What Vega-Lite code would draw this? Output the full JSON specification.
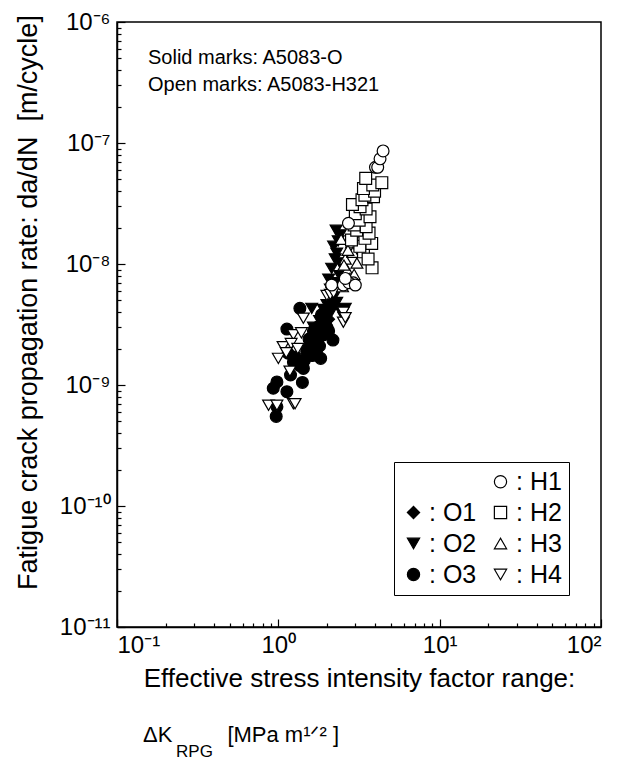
{
  "$schema": "https://vega.github.io/schema/vega-lite/v6.json",
  "width": 484,
  "height": 605,
  "autosize": "none",
  "padding": {"left": 117, "top": 22, "right": 24, "bottom": 137},
  "background": "white",
  "config": {
    "font": "Liberation Sans",
    "view": {"stroke": "black", "strokeWidth": 1.5},
    "axis": {
      "grid": false,
      "domainColor": "black",
      "domainWidth": 1.5,
      "tickColor": "black",
      "tickWidth": 1.2,
      "labelColor": "black",
      "titleColor": "black",
      "labelFont": "Liberation Sans",
      "titleFont": "Liberation Sans",
      "titleFontWeight": "normal"
    },
    "legend": {
      "orient": "none", "legendX": 277, "legendY": 440,
      "columns": 2,
      "strokeColor": "black", "fillColor": "white", "padding": 7,
      "labelFont": "Liberation Sans", "labelFontSize": 25, "labelColor": "black",
      "symbolSize": 150, "symbolStrokeWidth": 1.2,
      "rowPadding": 5, "columnPadding": 11, "labelOffset": 3
    }
  },
  "title": {
    "text": "ΔK\u00a0\u00a0\u00a0\u00a0\u00a0\u00a0\u00a0\u00a0 [MPa m¹ᐟ² ]",
    "subtitle": "\u200b\u00a0\u00a0\u00a0\u00a0\u00a0\u00a0\u00a0RPG",
    "orient": "bottom",
    "anchor": "start",
    "frame": "group",
    "dx": 26,
    "offset": 34,
    "font": "Liberation Sans",
    "fontSize": 22,
    "fontWeight": "normal",
    "color": "black",
    "subtitleFont": "Liberation Sans",
    "subtitleFontSize": 17,
    "subtitleColor": "black",
    "subtitlePadding": -3
  },
  "datasets": {
    "points": [
      {"series": "O1", "dK": 1.6, "dadN": 2.4e-9},
      {"series": "O1", "dK": 1.7, "dadN": 2.9e-9},
      {"series": "O1", "dK": 1.8, "dadN": 3.2e-9},
      {"series": "O1", "dK": 1.9, "dadN": 3.6e-9},
      {"series": "O1", "dK": 2.0, "dadN": 4.0e-9},
      {"series": "O1", "dK": 2.1, "dadN": 4.4e-9},
      {"series": "O1", "dK": 1.75, "dadN": 2.3e-9},
      {"series": "O1", "dK": 1.85, "dadN": 2.7e-9},
      {"series": "O1", "dK": 1.95, "dadN": 3.0e-9},
      {"series": "O1", "dK": 2.05, "dadN": 3.5e-9},
      {"series": "O1", "dK": 1.65, "dadN": 2.0e-9},
      {"series": "O1", "dK": 2.2, "dadN": 4.9e-9},
      {"series": "O2", "dK": 2.42, "dadN": 1.74e-8},
      {"series": "O2", "dK": 2.3, "dadN": 1.23e-8},
      {"series": "O2", "dK": 2.14, "dadN": 9.2e-9},
      {"series": "O2", "dK": 2.42, "dadN": 1.02e-8},
      {"series": "O2", "dK": 2.2, "dadN": 1.4e-8},
      {"series": "O2", "dK": 2.35, "dadN": 1.55e-8},
      {"series": "O2", "dK": 2.25, "dadN": 1.1e-8},
      {"series": "O2", "dK": 2.05, "dadN": 7.5e-9},
      {"series": "O2", "dK": 2.1, "dadN": 6.2e-9},
      {"series": "O2", "dK": 2.3, "dadN": 7.0e-9},
      {"series": "O2", "dK": 2.4, "dadN": 8.0e-9},
      {"series": "O2", "dK": 2.5, "dadN": 9.5e-9},
      {"series": "O2", "dK": 2.2, "dadN": 5.3e-9},
      {"series": "O2", "dK": 2.0, "dadN": 4.6e-9},
      {"series": "O2", "dK": 1.9, "dadN": 4.2e-9},
      {"series": "O2", "dK": 2.3, "dadN": 4.8e-9},
      {"series": "O2", "dK": 2.45, "dadN": 4.0e-9},
      {"series": "O2", "dK": 2.55, "dadN": 3.6e-9},
      {"series": "O2", "dK": 1.8, "dadN": 3.4e-9},
      {"series": "O2", "dK": 1.75, "dadN": 2.6e-9},
      {"series": "O2", "dK": 1.65, "dadN": 3.0e-9},
      {"series": "O2", "dK": 2.1, "dadN": 3.9e-9},
      {"series": "O2", "dK": 1.95, "dadN": 3.2e-9},
      {"series": "O2", "dK": 2.6, "dadN": 4.3e-9},
      {"series": "O2", "dK": 2.15, "dadN": 5.8e-9},
      {"series": "O2", "dK": 1.61, "dadN": 4.3e-9},
      {"series": "O2", "dK": 2.53, "dadN": 4.2e-9},
      {"series": "O2", "dK": 2.28, "dadN": 1.9e-8},
      {"series": "O3", "dK": 0.97, "dadN": 5.5e-10},
      {"series": "O3", "dK": 0.98, "dadN": 6.6e-10},
      {"series": "O3", "dK": 0.93, "dadN": 9.4e-10},
      {"series": "O3", "dK": 0.98, "dadN": 1.06e-9},
      {"series": "O3", "dK": 1.13, "dadN": 8.8e-10},
      {"series": "O3", "dK": 1.19, "dadN": 1.21e-9},
      {"series": "O3", "dK": 1.15, "dadN": 1.83e-9},
      {"series": "O3", "dK": 1.24, "dadN": 1.55e-9},
      {"series": "O3", "dK": 1.43, "dadN": 1.37e-9},
      {"series": "O3", "dK": 1.41, "dadN": 1.05e-9},
      {"series": "O3", "dK": 1.36, "dadN": 4.3e-9},
      {"series": "O3", "dK": 1.13, "dadN": 2.9e-9},
      {"series": "O3", "dK": 1.83, "dadN": 1.66e-9},
      {"series": "O3", "dK": 2.18, "dadN": 2.35e-9},
      {"series": "O3", "dK": 1.5, "dadN": 1.9e-9},
      {"series": "O3", "dK": 1.6, "dadN": 2.2e-9},
      {"series": "O3", "dK": 1.7, "dadN": 2.5e-9},
      {"series": "O3", "dK": 1.75, "dadN": 3.0e-9},
      {"series": "O3", "dK": 1.65, "dadN": 2.8e-9},
      {"series": "O3", "dK": 1.55, "dadN": 2.4e-9},
      {"series": "O3", "dK": 1.8, "dadN": 2.1e-9},
      {"series": "O3", "dK": 1.9, "dadN": 2.6e-9},
      {"series": "O3", "dK": 2.0, "dadN": 3.0e-9},
      {"series": "O3", "dK": 1.45, "dadN": 1.6e-9},
      {"series": "O3", "dK": 1.35, "dadN": 1.45e-9},
      {"series": "O3", "dK": 1.28, "dadN": 1.7e-9},
      {"series": "O3", "dK": 1.62, "dadN": 1.75e-9},
      {"series": "O3", "dK": 1.95, "dadN": 3.4e-9},
      {"series": "O3", "dK": 2.05, "dadN": 2.8e-9},
      {"series": "O3", "dK": 1.52, "dadN": 2.0e-9},
      {"series": "O3", "dK": 1.72, "dadN": 1.9e-9},
      {"series": "O3", "dK": 1.85, "dadN": 3.8e-9},
      {"series": "H4", "dK": 0.87, "dadN": 6.8e-10},
      {"series": "H4", "dK": 0.98, "dadN": 6.8e-10},
      {"series": "H4", "dK": 1.24, "dadN": 7.0e-10},
      {"series": "H4", "dK": 1.27, "dadN": 7.0e-10},
      {"series": "H4", "dK": 1.0, "dadN": 1.66e-9},
      {"series": "H4", "dK": 1.07, "dadN": 2.07e-9},
      {"series": "H4", "dK": 1.24, "dadN": 2.6e-9},
      {"series": "H4", "dK": 1.39, "dadN": 2.7e-9},
      {"series": "H4", "dK": 1.43, "dadN": 3.56e-9},
      {"series": "H4", "dK": 2.0, "dadN": 5.5e-9},
      {"series": "H4", "dK": 2.1, "dadN": 5.6e-9},
      {"series": "H4", "dK": 2.53, "dadN": 4.0e-9},
      {"series": "H4", "dK": 2.53, "dadN": 3.3e-9},
      {"series": "H4", "dK": 2.6, "dadN": 3.6e-9},
      {"series": "H4", "dK": 1.2, "dadN": 2.2e-9},
      {"series": "H4", "dK": 1.32, "dadN": 2.0e-9},
      {"series": "H4", "dK": 1.12, "dadN": 1.85e-9},
      {"series": "H4", "dK": 1.18, "dadN": 1.3e-9},
      {"series": "H4", "dK": 2.2, "dadN": 5.8e-9},
      {"series": "H3", "dK": 2.67, "dadN": 8.9e-9},
      {"series": "H3", "dK": 2.78, "dadN": 7.6e-9},
      {"series": "H3", "dK": 3.07, "dadN": 1.02e-8},
      {"series": "H3", "dK": 2.84, "dadN": 1.5e-8},
      {"series": "H3", "dK": 2.6, "dadN": 1.1e-8},
      {"series": "H3", "dK": 2.9, "dadN": 1.25e-8},
      {"series": "H3", "dK": 2.5, "dadN": 6.5e-9},
      {"series": "H3", "dK": 2.95, "dadN": 8.2e-9},
      {"series": "H3", "dK": 2.7, "dadN": 1.3e-8},
      {"series": "H3", "dK": 3.0, "dadN": 1.7e-8},
      {"series": "H3", "dK": 2.55, "dadN": 9.8e-9},
      {"series": "H3", "dK": 2.45, "dadN": 1.6e-8},
      {"series": "H2", "dK": 3.81, "dadN": 9.3e-9},
      {"series": "H2", "dK": 3.37, "dadN": 1.26e-8},
      {"series": "H2", "dK": 3.79, "dadN": 1.48e-8},
      {"series": "H2", "dK": 3.6, "dadN": 1.1e-8},
      {"series": "H2", "dK": 3.2, "dadN": 1.4e-8},
      {"series": "H2", "dK": 2.84, "dadN": 1.58e-8},
      {"series": "H2", "dK": 3.44, "dadN": 1.63e-8},
      {"series": "H2", "dK": 3.65, "dadN": 1.8e-8},
      {"series": "H2", "dK": 3.06, "dadN": 1.9e-8},
      {"series": "H2", "dK": 3.5, "dadN": 2.03e-8},
      {"series": "H2", "dK": 2.95, "dadN": 2.1e-8},
      {"series": "H2", "dK": 3.17, "dadN": 2.3e-8},
      {"series": "H2", "dK": 3.7, "dadN": 2.46e-8},
      {"series": "H2", "dK": 3.0, "dadN": 2.6e-8},
      {"series": "H2", "dK": 3.5, "dadN": 2.85e-8},
      {"series": "H2", "dK": 3.21, "dadN": 2.98e-8},
      {"series": "H2", "dK": 2.88, "dadN": 3.1e-8},
      {"series": "H2", "dK": 3.3, "dadN": 3.4e-8},
      {"series": "H2", "dK": 3.89, "dadN": 3.6e-8},
      {"series": "H2", "dK": 3.44, "dadN": 3.7e-8},
      {"series": "H2", "dK": 3.95, "dadN": 4.0e-8},
      {"series": "H2", "dK": 3.37, "dadN": 4.2e-8},
      {"series": "H2", "dK": 3.85, "dadN": 4.5e-8},
      {"series": "H2", "dK": 4.38, "dadN": 4.7e-8},
      {"series": "H2", "dK": 3.48, "dadN": 5.1e-8},
      {"series": "H1", "dK": 2.14, "dadN": 6.7e-9},
      {"series": "H1", "dK": 2.53, "dadN": 6.7e-9},
      {"series": "H1", "dK": 2.92, "dadN": 7.0e-9},
      {"series": "H1", "dK": 2.74, "dadN": 7.0e-9},
      {"series": "H1", "dK": 3.0, "dadN": 6.7e-9},
      {"series": "H1", "dK": 2.6, "dadN": 7.6e-9},
      {"series": "H1", "dK": 2.72, "dadN": 2.17e-8},
      {"series": "H1", "dK": 4.0, "dadN": 6.3e-8},
      {"series": "H1", "dK": 4.13, "dadN": 6.3e-8},
      {"series": "H1", "dK": 4.27, "dadN": 7.4e-8},
      {"series": "H1", "dK": 4.46, "dadN": 8.6e-8}
    ]
  },
  "resolve": {"axis": {"x": "independent", "y": "independent"}},
  "layer": [
    {
      "data": {"name": "points"},
      "mark": {"type": "point", "opacity": 0},
      "encoding": {
        "x": {
          "field": "dK", "type": "quantitative",
          "scale": {"type": "log", "domain": [0.1, 100]},
          "axis": {
            "orient": "bottom",
            "values": [0.2, 0.3, 0.4, 0.5, 0.6, 0.7, 0.8, 0.9, 2, 3, 4, 5, 6, 7, 8, 9, 20, 30, 40, 50, 60, 70, 80, 90],
            "tickSize": -4, "labels": false, "domain": false, "title": null
          }
        },
        "y": {
          "field": "dadN", "type": "quantitative",
          "scale": {"type": "log", "domain": [1e-11, 1e-6]},
          "axis": {
            "orient": "left",
            "values": [2e-11, 3e-11, 4e-11, 5e-11, 6e-11, 7e-11, 8e-11, 9e-11, 2e-10, 3e-10, 4e-10, 5e-10, 6e-10, 7e-10, 8e-10, 9e-10, 2e-9, 3e-9, 4e-9, 5e-9, 6e-9, 7e-9, 8e-9, 9e-9, 2e-8, 3e-8, 4e-8, 5e-8, 6e-8, 7e-8, 8e-8, 9e-8, 2e-7, 3e-7, 4e-7, 5e-7, 6e-7, 7e-7, 8e-7, 9e-7],
            "tickSize": -4, "labels": false, "domain": false, "title": null
          }
        }
      }
    },
    {
      "data": {"name": "points"},
      "mark": {"type": "point", "filled": false, "opacity": 1, "size": 140, "strokeWidth": 1.2},
      "encoding": {
        "x": {
          "field": "dK", "type": "quantitative",
          "scale": {"type": "log", "domain": [0.1, 100]},
          "axis": {
            "orient": "bottom",
            "values": [0.1, 1, 10, 100],
            "tickSize": -8,
            "labelFontSize": 24,
            "labelPadding": 14,
            "labelExpr": "'10' + {'-11':'⁻¹¹','-10':'⁻¹⁰','-9':'⁻⁹','-8':'⁻⁸','-7':'⁻⁷','-6':'⁻⁶','-1':'⁻¹','0':'⁰','1':'¹','2':'²'}['' + round(log(datum.value)/LN10)]",
            "title": "Effective stress intensity factor range:",
            "titleFontSize": 26,
            "titleY": 59,
            "titleBaseline": "alphabetic"
          }
        },
        "y": {
          "field": "dadN", "type": "quantitative",
          "scale": {"type": "log", "domain": [1e-11, 1e-6]},
          "axis": {
            "orient": "left",
            "values": [1e-11, 1e-10, 1e-9, 1e-8, 1e-7, 1e-6],
            "tickSize": -8,
            "labelFontSize": 24,
            "labelPadding": 15,
            "labelExpr": "'10' + {'-11':'⁻¹¹','-10':'⁻¹⁰','-9':'⁻⁹','-8':'⁻⁸','-7':'⁻⁷','-6':'⁻⁶','-1':'⁻¹','0':'⁰','1':'¹','2':'²'}['' + round(log(datum.value)/LN10)]",
            "title": "Fatigue crack propagation rate: da/dN\u00a0\u00a0[m/cycle]",
            "titleFontSize": 27,
            "titleX": -81,
            "titleY": 280,
            "titleBaseline": "alphabetic"
          }
        },
        "shape": {
          "field": "series", "type": "nominal",
          "scale": {
            "domain": ["_", "O1", "O2", "O3", "H1", "H2", "H3", "H4"],
            "range": ["circle", "diamond", "triangle-down", "circle", "circle", "square", "triangle-up", "triangle-down"]
          },
          "legend": {"title": null, "labelExpr": "datum.label == '_' ? '' : ': ' + datum.label"}
        },
        "fill": {
          "field": "series", "type": "nominal",
          "scale": {
            "domain": ["_", "O1", "O2", "O3", "H1", "H2", "H3", "H4"],
            "range": ["transparent", "black", "black", "black", "white", "white", "white", "white"]
          },
          "legend": {"title": null, "labelExpr": "datum.label == '_' ? '' : ': ' + datum.label"}
        },
        "stroke": {
          "field": "series", "type": "nominal",
          "scale": {
            "domain": ["_", "O1", "O2", "O3", "H1", "H2", "H3", "H4"],
            "range": ["transparent", "black", "black", "black", "black", "black", "black", "black"]
          },
          "legend": {"title": null, "labelExpr": "datum.label == '_' ? '' : ': ' + datum.label"}
        }
      }
    },
    {
      "data": {"values": [{"note": "annotation"}]},
      "mark": {
        "type": "text",
        "text": ["Solid marks: A5083-O", "Open marks: A5083-H321"],
        "align": "left",
        "baseline": "alphabetic",
        "font": "Liberation Sans",
        "fontSize": 20,
        "lineHeight": 27,
        "color": "black"
      },
      "encoding": {
        "x": {"datum": 0.1556, "type": "quantitative", "axis": null},
        "y": {"datum": 4.5e-7, "type": "quantitative", "axis": null}
      }
    }
  ]
}
